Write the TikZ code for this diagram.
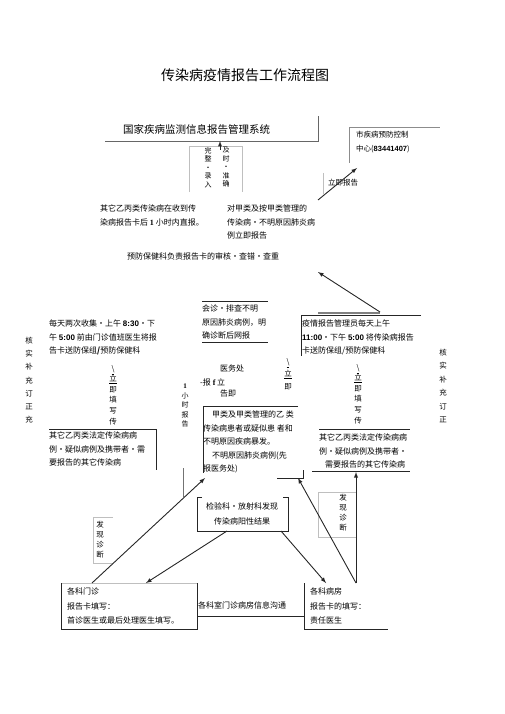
\documentclass[tikz,border=0pt]{standalone}
\usepackage{fontspec}
\setmainfont{Noto Sans CJK SC}
\newfontfamily\numfont{Liberation Sans}
\newfontfamily\serfont{Liberation Serif}
\usetikzlibrary{arrows}
\newcommand{\nb}[1]{{\numfont\bfseries #1}}
\newcommand{\sbn}[1]{{\serfont\bfseries #1}}

\begin{document}
\begin{tikzpicture}
	[x=1pt,y=-1pt,>=latex,
	 every node/.style={inner sep=0pt,font=\fontsize{8}{13.5}\selectfont},
	 txt/.style={anchor=north west,align=left},
	 vtxt/.style={anchor=north,align=center,font=\fontsize{7.5}{#1}\selectfont},
	 edge/.style={draw=black!85,line width=.9pt},
	 faint/.style={draw=black!25,line width=.6pt}]
	\useasboundingbox (0,0) rectangle (505,714);

	% title and top
	\node[font=\fontsize{14}{14}\selectfont] (title) at (245,75) {传染病疫情报告工作流程图};
	\node[anchor=west,font=\fontsize{10.5}{12}\selectfont] (sys) at (123,130) {国家疾病监测信息报告管理系统};
	\draw[edge,draw=black!60] (105,141) -- (318,141) -- (318,116);
	\node[txt,font=\fontsize{7.5}{14}\selectfont] (cdc) at (356,131) {市疾病预防控制\\中心(\nb{83441407})};
	\draw[faint,draw=black!45] (349,163) -- (349,127) -- (440,127);
	\draw[faint] (189,192) -- (189,146) -- (242,146) -- (242,192);
	\node[vtxt=8.5,font=\fontsize{7}{8.5}\selectfont] (wz) at (208,147) {完\\整\\・\\录\\入};
	\node[vtxt=8.5,font=\fontsize{7}{8.5}\selectfont] (js) at (226,147) {及\\时\\・\\准\\确};
	\node[font=\fontsize{7.5}{9}\selectfont] (ljbg) at (343,183) {立即报告};
	\draw[faint] (323,173) -- (323,194);

	% report texts
	\node[txt] (zb) at (100,205) {其它乙丙类传染病在收到传\\染病报告卡后 \sbn{1} 小时内直报。};
	\node[txt] (jl) at (227,205) {对甲类及按甲类管理的\\传染病・不明原因肺炎病\\例立即报告};
	\node[txt] (sh) at (127,253) {预防保健科负责报告卡的审核・查错・查重};

	% middle rows
	\node[txt] (hz) at (202,305) {会诊・排查不明\\原因肺炎病例，明\\确诊断后网报};
	\draw[edge] (202,301) -- (268,301);
	\draw[edge] (202,342) -- (268,342);
	\node[txt] (yq) at (302,320) {疫情报告管理员每天上午\\\nb{11:00}・下午 \nb{5:00} 将传染病报告\\卡送防保组/预防保健科};
	\draw[edge] (421,315) -- (301,315) -- (301,356);
	\draw[draw=black!50,line width=2pt] (318,313) -- (380,313);
	\node[txt] (sj) at (49,320) {每天两次收集・上午 \nb{8:30}・下\\午 \nb{5:00} 前由门诊值班医生将报\\告卡送防保组\textbf{/}预防保健科};

	\node[vtxt=13.2] (hsl) at (29,337) {核\\实\\补\\充\\订\\正\\充};
	\node[vtxt=13.4] (hsr) at (443,349) {核\\实\\补\\充\\订\\正};
	\node[vtxt=10.6] (txl) at (113,365) {\underline{\textbackslash}\\\underline{立}\\即\\填\\写\\传};
	\node[vtxt=10.6] (txr) at (358,364) {\underline{\textbackslash}\\\underline{立}\\即\\填\\写\\传};
	\node[vtxt=12.5] (ljm) at (288,358) {\underline{\textbackslash}\\\underline{立}\\即};
	\node (ywc) at (232,368) {医务处};
	\node[anchor=west] (bl) at (200,382) {-报 \sbn{f} 立};
	\node[anchor=west] (gj) at (220,393) {告即};
	\node[vtxt=9.5,font=\fontsize{7}{9.5}\selectfont] (xs) at (185,384) {\sbn{1}\\小\\时\\报\\告};

	% boxes of cases
	\node[txt] (jlb) at (203,411) {\hspace{9pt}甲类及甲类管理的乙 类\\传染病患者或疑似患 者和\\不明原因疾病暴发。\\\hspace{9pt}不明原因肺炎病例(先\\报医务处)};
	\draw[edge] (298,406) -- (203,406) -- (203,473);
	\draw[edge] (277,478) -- (303,478) -- (303,470);
	\node[txt] (lb) at (49,432) {其它乙丙类法定传染病病\\例・疑似病例及携带者・需\\要报告的其它传染病};
	\draw[edge] (49,429) -- (156,429) -- (156,470);
	\node[txt] (rb) at (319,434) {其它乙丙类法定传染病病\\例・疑似病例及携带者・\\\hspace{6pt}需要报告的其它传染病};
	\draw[edge] (319,429) -- (410,429);
	\draw[edge] (312,471) -- (410,471);
	\draw[edge,draw=black!55] (183,468) -- (183,497);

	% findings
	\node[vtxt=10] (fxr) at (343,494) {发\\现\\诊\\断};
	\draw[faint] (356,492) -- (318,492) -- (318,537) -- (356,537);
	\node[vtxt=10] (fxl) at (100,521) {发\\现\\诊\\断};
	\draw[faint] (113,517) -- (93,517) -- (93,563) -- (113,563);
	\node[align=center,font=\fontsize{8}{15}\selectfont] (jy) at (242,514) {检验科・放射科发现\\传染病阳性结果};
	\draw[edge] (202,497) -- (197,497) -- (197,531) -- (288,531) -- (288,497) -- (283,497);

	% bottom
	\node[txt,font=\fontsize{8}{14.5}\selectfont] (mz) at (67,588) {各科门诊\\报告卡填写：\\首诊医生或最后处理医生填写。};
	\draw[faint] (61,583) -- (197,583);
	\draw[edge] (61,583) -- (61,629) -- (197,629) -- (197,583);
	\node[txt,font=\fontsize{8}{14.5}\selectfont] (bf) at (310,588) {各科病房\\报告卡的填写：\\责任医生};
	\draw[edge] (304,583) -- (304,629) -- (388,629);
	\node[anchor=west] (gt) at (198,605) {各科室门诊病房信息沟通};
	\draw[edge] (197,616) -- (304,616);

	% arrow ends
	\coordinate (a1) at (220,150);  \coordinate (b1) at (220,141);
	\coordinate (a2) at (318,200);  \coordinate (b2) at (357,168);
	\coordinate (a3) at (380,312);  \coordinate (b3) at (318,272);
	\coordinate (a4) at (92,583);   \coordinate (b4) at (205,478);
	\coordinate (a5) at (227,531);  \coordinate (b5) at (146,583);
	\coordinate (a6) at (281,531);  \coordinate (b6) at (326,583);
	\coordinate (a7) at (356,583);  \coordinate (b7) at (298,478);
	\coordinate (b8) at (356,472);

	\foreach \from/\to in {a1/b1,a2/b2,a3/b3,a4/b4,a5/b5,a6/b6,a7/b7,a7/b8}
	\draw[edge,->] (\from) -- (\to);
\end{tikzpicture}
\end{document}
